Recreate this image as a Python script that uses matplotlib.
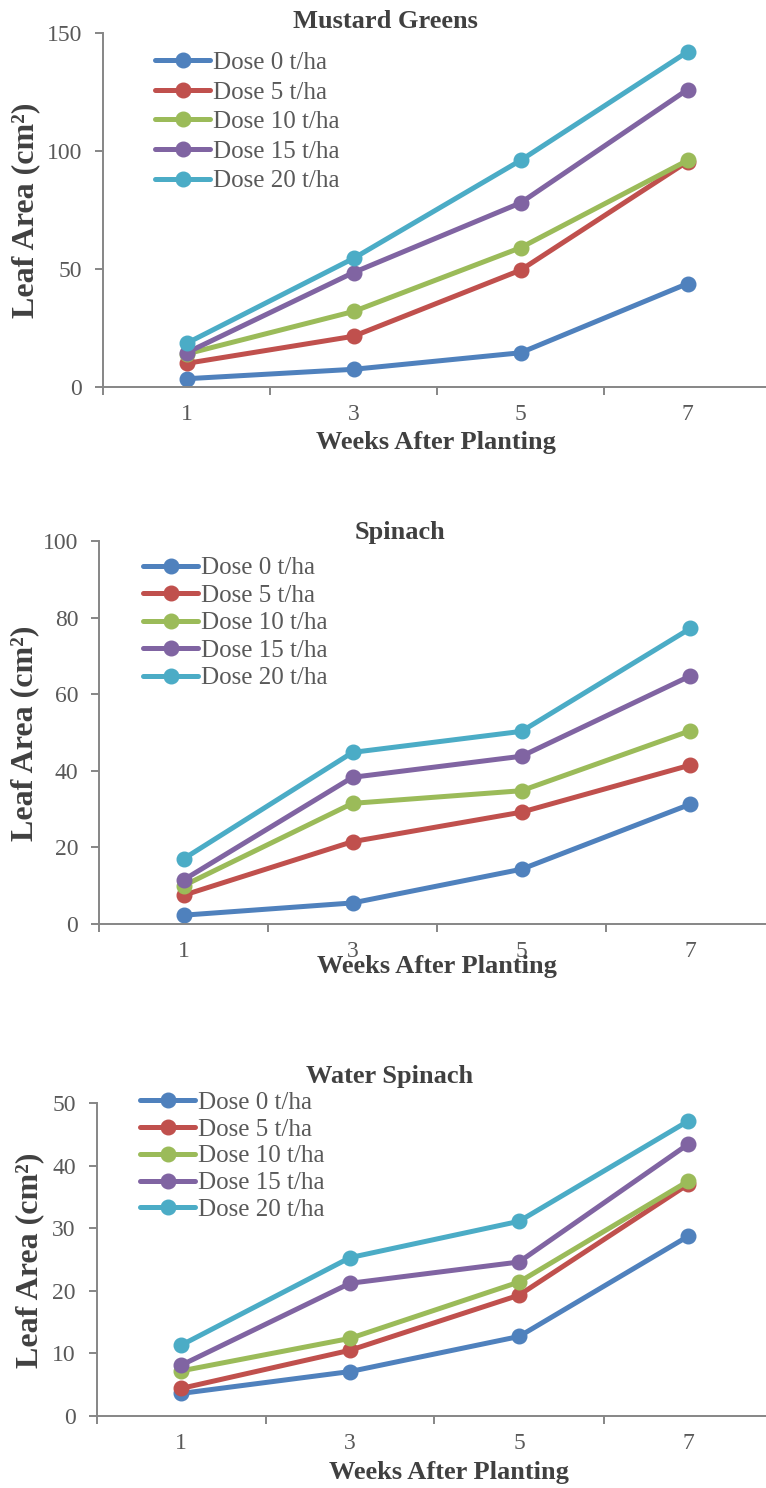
import matplotlib
matplotlib.use("Agg")
import matplotlib.pyplot as plt

# ---- data ----
weeks = ["1", "3", "5", "7"]
series_labels = ["Dose 0 t/ha", "Dose 5 t/ha", "Dose 10 t/ha", "Dose 15 t/ha", "Dose 20 t/ha"]
colors = ["#4F81BD", "#C0504D", "#9BBB59", "#8064A2", "#4BACC6"]

mustard_0 = [3.5, 7.5, 14.5, 43.8]
mustard_5 = [10.0, 21.5, 49.5, 95.5]
mustard_10 = [14.0, 32.0, 59.0, 96.0]
mustard_15 = [14.5, 48.5, 78.0, 126.0]
mustard_20 = [18.5, 54.5, 96.0, 142.0]

spinach_0 = [2.3, 5.5, 14.3, 31.3]
spinach_5 = [7.5, 21.5, 29.2, 41.5]
spinach_10 = [10.0, 31.5, 34.8, 50.5]
spinach_15 = [11.5, 38.3, 43.8, 64.8]
spinach_20 = [17.0, 44.8, 50.3, 77.2]

water_0 = [3.6, 7.1, 12.7, 28.7]
water_5 = [4.4, 10.5, 19.3, 37.0]
water_10 = [7.2, 12.4, 21.4, 37.5]
water_15 = [8.1, 21.2, 24.6, 43.4]
water_20 = [11.3, 25.3, 31.1, 47.1]

titles = ["Mustard Greens", "Spinach", "Water Spinach"]
ymaxes = [150, 100, 50]
ysteps = [50, 20, 10]
xlabel = "Weeks After Planting"
ylabel = "Leaf Area (cm²)"

panels = [
    [mustard_0, mustard_5, mustard_10, mustard_15, mustard_20],
    [spinach_0, spinach_5, spinach_10, spinach_15, spinach_20],
    [water_0, water_5, water_10, water_15, water_20],
]

# ---- layout (pixel geometry) ----
W, H = 766, 1488
layout = [
    dict(l=103, r=771, b=387, t=33, title=(385, 22), xl=(436, 443), yl=(26, 210), leg=(155, 51.5, 0.284)),
    dict(l=99, r=775, b=924, t=541, title=(400, 533), xl=(437, 967), yl=(25, 733), leg=(143, 557, 0.2)),
    dict(l=96.5, r=772.5, b=1416, t=1103, title=(390, 1076), xl=(449, 1473), yl=(30, 1260), leg=(140, 1091.5, 0.17)),
]

plt.rcParams['font.family'] = ['Liberation Serif', 'DejaVu Serif']

fig = plt.figure(figsize=(W / 100, H / 100), dpi=100)

tick_color = "#595959"
label_color = "#404040"
spine_color = "#868686"

for data, title, ymax, ystep, g in zip(panels, titles, ymaxes, ysteps, layout):
    l, r, b, t = g['l'], g['r'], g['b'], g['t']
    ax = fig.add_axes([l / W, 1 - b / H, (r - l) / W, (b - t) / H])
    ax.set_facecolor('none')

    def fx(px):
        return (px - l) / (r - l)

    def fy(py):
        return (b - py) / (b - t)

    xs = range(len(weeks))
    for vals, lab, c in zip(data, series_labels, colors):
        ax.plot(xs, vals, color=c, lw=3.6, marker='o', ms=10.5, label=lab,
                solid_capstyle='round', clip_on=False)

    ax.set_xlim(-0.5, len(weeks) - 0.5)
    ax.set_ylim(0, ymax)
    ax.set_yticks(list(range(0, ymax + 1, ystep)))

    ax.set_xticks([i - 0.5 for i in range(len(weeks) + 1)])
    ax.set_xticklabels([])
    ax.set_xticks(list(xs), minor=True)
    ax.set_xticklabels(weeks, minor=True)
    ax.tick_params(axis='x', which='major', length=6, width=1.4, color=spine_color, direction='out')
    ax.tick_params(axis='x', which='minor', length=0, pad=12, labelsize=17, labelcolor=tick_color)
    ax.tick_params(axis='y', length=6, width=1.4, color=spine_color, pad=9,
                   labelsize=17, labelcolor=tick_color)

    for s in ['top', 'right']:
        ax.spines[s].set_visible(False)
    for s in ['left', 'bottom']:
        ax.spines[s].set_color(spine_color)
        ax.spines[s].set_linewidth(1.4)

    ax.set_title(title, fontsize=19, fontweight='bold', color=label_color,
                 x=fx(g['title'][0]), y=fy(g['title'][1]), va='center', pad=0)
    ax.set_xlabel(xlabel, fontsize=19, fontweight='bold', color=label_color, va='center')
    ax.xaxis.set_label_coords(fx(g['xl'][0]), fy(g['xl'][1]))
    ax.set_ylabel(ylabel, fontsize=23, fontweight='bold', color=label_color, va='center')
    ax.yaxis.set_label_coords(fx(g['yl'][0]), fy(g['yl'][1]))

    lx, ly, sp = g['leg']
    ax.legend(loc='upper left', bbox_to_anchor=(fx(lx), fy(ly)), frameon=False,
              fontsize=18, handlelength=2.2, handletextpad=0.12, labelspacing=sp,
              borderpad=0, borderaxespad=0, labelcolor=tick_color)

fig.savefig("out.png", dpi=100)
